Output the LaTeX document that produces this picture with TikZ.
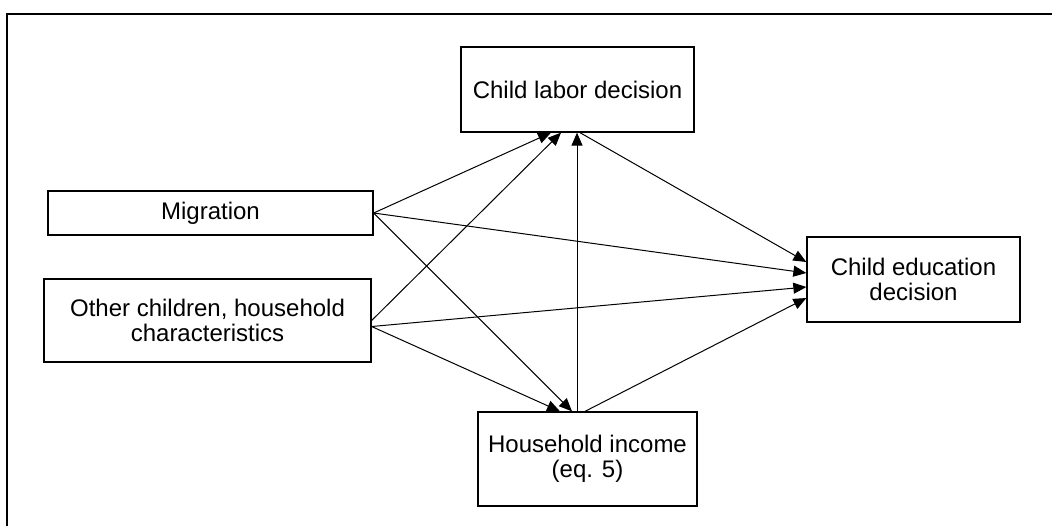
\documentclass[tikz,border=0pt]{standalone}
\usepackage{fontspec}
\setmainfont{Liberation Sans}
\usetikzlibrary{arrows.meta}

\begin{document}
\begin{tikzpicture}[
    x=0.5pt, y=-0.5pt,
    block/.style={rectangle, draw=black, line width=0.65pt, align=center, inner sep=0pt, font=\fontsize{12}{12.5}\selectfont},
    arrow/.style={-{Triangle[length=6.5pt, width=5.5pt]}, line width=0.5pt, color=black},
]
\useasboundingbox (0,0) rectangle (1052,526);
\draw[line width=0.75pt] (7,526) -- (7,14) -- (1052,14);

\node[block, minimum width=116.5pt, minimum height=42.5pt] (labor) at (577.5,89.5) {Child labor decision};
\node[block, minimum width=162.5pt, minimum height=22pt] (migration) at (210.5,213) {Migration};
\node[block, minimum width=163.5pt, minimum height=41.5pt] (other) at (207.5,320.5) {Other children, household\\characteristics};
\node[block, minimum width=106.5pt, minimum height=42.5pt] (education) at (913.5,279.5) {Child education\\decision};
\node[block, minimum width=109.5pt, minimum height=47pt] (income) at (587.5,459) {Household income\\(eq. 5)};

\draw[arrow] (migration.east) -- ([xshift=-13.25pt]labor.south);
\draw[arrow] (other.east) -- ([xshift=-8.25pt]labor.south);
\draw[arrow] ([xshift=-5.25pt]income.north) -- ([xshift=-5.25pt]income.north |- labor.south);
\draw[arrow] ([xshift=1.25pt]labor.south) -- ([yshift=8.75pt]education.west);
\draw[arrow] (migration.east) -- ([yshift=3.25pt]education.west);
\draw[arrow] ([yshift=-3pt]other.east) -- ([yshift=-3.75pt]education.west);
\draw[arrow] (migration.east) -- ([xshift=-7.75pt]income.north);
\draw[arrow] ([yshift=-3pt]other.east) -- ([xshift=-13.75pt]income.north);
\draw[arrow] ([xshift=-1.25pt]income.north) -- ([yshift=-9.25pt]education.west);

\end{tikzpicture}
\end{document}
